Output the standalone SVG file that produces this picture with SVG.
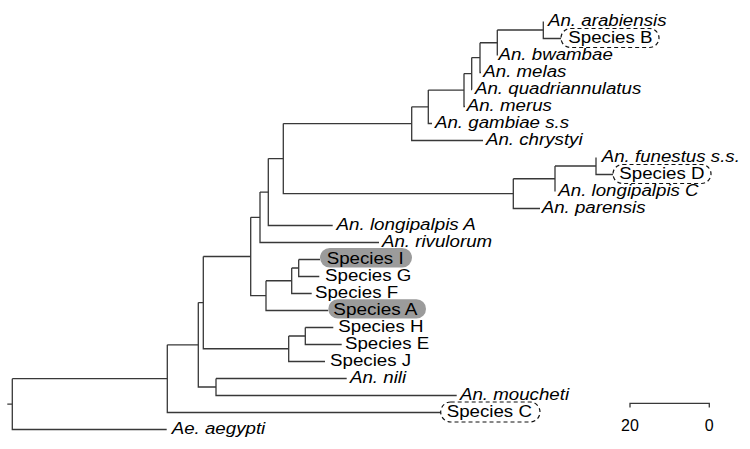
<svg xmlns="http://www.w3.org/2000/svg" width="750" height="449" viewBox="0 0 750 449">
<style>
.br{fill:none;stroke:#383838;stroke-width:1.3}
text{font-family:"Liberation Sans",Arial,sans-serif;font-size:16px;fill:#000}
.it{font-style:italic}
.pill{fill:#9b9b9b;stroke:none}
.dash{fill:none;stroke:#111;stroke-width:1.2;stroke-dasharray:4,3}
</style>
<rect width="750" height="449" fill="#fff"/>
<g id="connectors" class="br">
<path d="M543.3,21.5V38.5H561"/>
<path d="M497.3,30V55.5M497.3,30H543.3"/>
<path d="M480,42.75V72.5H481M480,42.75H497.3"/>
<path d="M471.7,57.6V89.5H472M471.7,57.6H480"/>
<path d="M464,73.6V106.5H465M464,73.6H471.7"/>
<path d="M428.3,90.05V123.5H432M428.3,90.05H464"/>
<path d="M411.7,106.8V140.5H483M411.7,106.8H428.3"/>
<path d="M596,157.5V174.5H613"/>
<path d="M555,166V191.5M555,166H596"/>
<path d="M513.3,178.75V208.5H540M513.3,178.75H555"/>
<path d="M283.3,123.6V193.6H513.3M283.3,123.6H411.7"/>
<path d="M268.3,158.6V225.5H332.7M268.3,158.6H283.3"/>
<path d="M260,192.05V242.5H379M260,192.05H268.3"/>
<path d="M298.7,259.5V276.5H319.3M298.7,259.5H320"/>
<path d="M291.7,268V293.5H311.7M291.7,268H298.7"/>
<path d="M266,280.75V310.5H328.3M266,280.75H291.7"/>
<path d="M250.7,217.3V295.6H266M250.7,217.3H260"/>
<path d="M305.3,327.5V344.5H341.7M305.3,327.5H333.3"/>
<path d="M288.7,336V361.5H325M288.7,336H305.3"/>
<path d="M203.3,256.5V348.75H288.7M203.3,256.5H250.7"/>
<path d="M216,378.5V395.5H456.7M216,378.5H346.7"/>
<path d="M198.3,302.6V387H216M198.3,302.6H203.3"/>
<path d="M167.3,344.8V412.5H440.7M167.3,344.8H198.3"/>
<path d="M12.3,378.65V429.5H166.7M12.3,378.65H167.3M7.3,404.1H12.3"/>
</g>
<g id="arabiensis"><text class="it" x="548" y="25.5" textLength="118.5" lengthAdjust="spacingAndGlyphs">An. arabiensis</text></g>
<g id="speciesB"><rect class="dash" x="561" y="28.5" width="98" height="19" rx="9.5"/><text x="568.3" y="42.5" textLength="84.2" lengthAdjust="spacingAndGlyphs">Species B</text></g>
<g id="bwambae"><text class="it" x="498.5" y="59.5" textLength="114.3" lengthAdjust="spacingAndGlyphs">An. bwambae</text></g>
<g id="melas"><text class="it" x="483.3" y="76.5" textLength="83.1" lengthAdjust="spacingAndGlyphs">An. melas</text></g>
<g id="quadriannulatus"><text class="it" x="475" y="93.5" textLength="166.3" lengthAdjust="spacingAndGlyphs">An. quadriannulatus</text></g>
<g id="merus"><text class="it" x="466.7" y="110.5" textLength="85.2" lengthAdjust="spacingAndGlyphs">An. merus</text></g>
<g id="gambiae"><text class="it" x="435" y="127.5" textLength="134.1" lengthAdjust="spacingAndGlyphs">An. gambiae s.s</text></g>
<g id="chrystyi"><text class="it" x="486" y="144.5" textLength="96.6" lengthAdjust="spacingAndGlyphs">An. chrystyi</text></g>
<g id="funestus"><text class="it" x="601.7" y="161.5" textLength="138.2" lengthAdjust="spacingAndGlyphs">An. funestus s.s.</text></g>
<g id="speciesD"><rect class="dash" x="613" y="164.5" width="98" height="19" rx="9.5"/><text x="619.3" y="178.5" textLength="85.2" lengthAdjust="spacingAndGlyphs">Species D</text></g>
<g id="longipalpisC"><text class="it" x="558.3" y="195.5" textLength="140.3" lengthAdjust="spacingAndGlyphs">An. longipalpis C</text></g>
<g id="parensis"><text class="it" x="541.7" y="212.5" textLength="103.9" lengthAdjust="spacingAndGlyphs">An. parensis</text></g>
<g id="longipalpisA"><text class="it" x="336.5" y="229.5" textLength="139.3" lengthAdjust="spacingAndGlyphs">An. longipalpis A</text></g>
<g id="rivulorum"><text class="it" x="382" y="246.5" textLength="110.1" lengthAdjust="spacingAndGlyphs">An. rivulorum</text></g>
<g id="speciesI"><rect class="pill" x="320" y="248" width="92" height="19.5" rx="9.75"/><text x="326.7" y="263.5" textLength="76.9" lengthAdjust="spacingAndGlyphs">Species I</text></g>
<g id="speciesG"><text x="325" y="280.5" textLength="86.3" lengthAdjust="spacingAndGlyphs">Species G</text></g>
<g id="speciesF"><text x="315" y="297.5" textLength="83.1" lengthAdjust="spacingAndGlyphs">Species F</text></g>
<g id="speciesA"><rect class="pill" x="328.3" y="299.3" width="97.7" height="19.2" rx="9.6"/><text x="333.3" y="314.5" textLength="84.2" lengthAdjust="spacingAndGlyphs">Species A</text></g>
<g id="speciesH"><text x="338.3" y="331.5" textLength="85.2" lengthAdjust="spacingAndGlyphs">Species H</text></g>
<g id="speciesE"><text x="345" y="348.5" textLength="84.2" lengthAdjust="spacingAndGlyphs">Species E</text></g>
<g id="speciesJ"><text x="330" y="365.5" textLength="81.1" lengthAdjust="spacingAndGlyphs">Species J</text></g>
<g id="nili"><text class="it" x="350" y="382.5" textLength="56.1" lengthAdjust="spacingAndGlyphs">An. nili</text></g>
<g id="moucheti"><text class="it" x="460" y="399.5" textLength="109.1" lengthAdjust="spacingAndGlyphs">An. moucheti</text></g>
<g id="speciesC"><rect class="dash" x="440.7" y="402" width="99.3" height="20" rx="10"/><text x="446.7" y="416.5" textLength="85.2" lengthAdjust="spacingAndGlyphs">Species C</text></g>
<g id="aegypti"><text class="it" x="171.7" y="433.5" textLength="93.6" lengthAdjust="spacingAndGlyphs">Ae. aegypti</text></g>
<g id="scalebar">
<path class="br" d="M630,407.5V403.3H709.3V407.5"/>
<text x="630" y="431" text-anchor="middle">20</text>
<text x="709.3" y="431" text-anchor="middle">0</text>
</g>
</svg>
